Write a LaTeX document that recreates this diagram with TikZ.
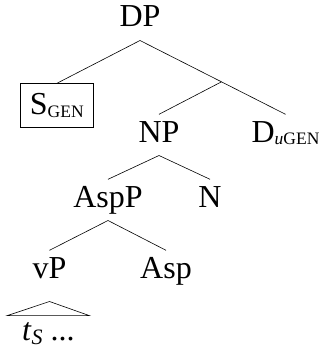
\documentclass[tikz,border=0pt]{standalone}
\usepackage{fontspec}
\setmainfont{Liberation Serif}
\usepackage{tikz}
\newcommand{\featsub}[1]{\raisebox{-2.5pt}{\fontsize{17.5}{19}\selectfont #1}}

\begin{document}
\begin{tikzpicture}[x=1pt,y=-1pt,
	font=\fontsize{32}{38}\selectfont,
	cat/.style={anchor=base,inner sep=0pt,outer sep=0pt,text height=21.2pt,text depth=7pt,outer ysep=6.5pt},
	branch/.style={line width=0.6pt}]
\useasboundingbox (0,0) rectangle (321,356);
\node[cat] (dp) at (140,27) {DP};
\node[draw,line width=0.6pt,inner sep=0pt,outer sep=0pt,minimum width=73pt,minimum height=43.7pt,
	text height=21.2pt,text depth=2.5pt] (sgen) at (56.8,105.2) {S\featsub{GEN}};
\node[cat] (np) at (159,142) {NP};
\node[cat] (dgen) at (285.5,142) {D\featsub{\textit{u}GEN}};
\node[cat] (aspp) at (108,207) {AspP};
\node[cat] (n) at (210,207) {N};
\node[cat] (vp) at (49.5,278) {vP};
\node[cat] (asp) at (166,278) {Asp};
\node[cat,text depth=0pt,outer ysep=3.2pt,minimum width=82pt] (ts) at (48.3,340)
	{\textit{t}\raisebox{-4pt}{\fontsize{22}{22}\selectfont\textit{S}} ...};
% branches
\draw[branch] (dp.south) -- (sgen.north);
\draw[branch] (dp.south) -- coordinate[pos=0.56] (dbar) (dgen.north);
\draw[branch] (dbar) -- (np.north);
\draw[branch] (np.south) -- (aspp.north);
\draw[branch] (np.south) -- (n.north);
\draw[branch] (aspp.south) -- (vp.north);
\draw[branch] (aspp.south) -- (asp.north);
% roof over the trace
\draw[branch] ([yshift=-10pt]vp.south) -- (ts.north west) -- (ts.north east) -- cycle;
\end{tikzpicture}
\end{document}
